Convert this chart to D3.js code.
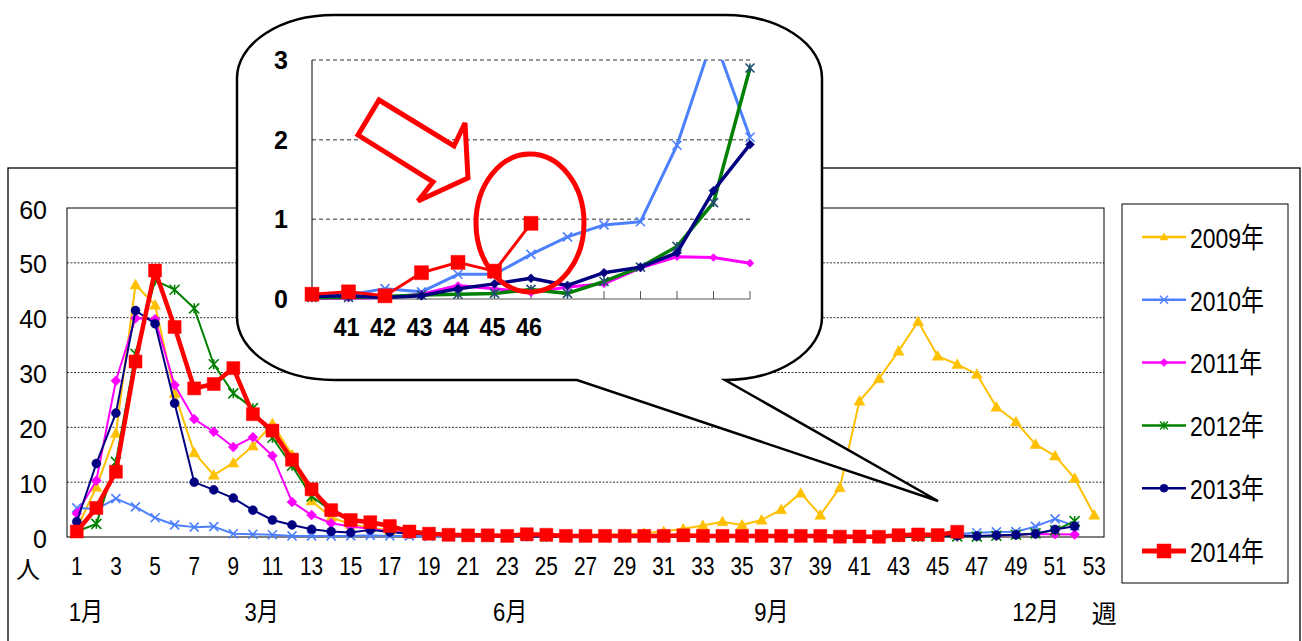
<!DOCTYPE html>
<html><head><meta charset="utf-8">
<script src="https://cdn.jsdelivr.net/npm/d3@7"></script>
<style>
body{margin:0;background:#fff;}
svg{display:block;}
text{font-family:"Liberation Sans",Arial,"Noto Sans CJK JP",sans-serif;fill:#000;}
</style></head><body>
<svg id="c" width="1302" height="641"></svg>
<script>
// ---------------- DATA ----------------
const weeks = d3.range(1, 54);
const years = ["2009年","2010年","2011年","2012年","2013年","2014年"];
const y2009 = [1.5,9.1,18.9,46.0,42.3,26.2,15.4,11.3,13.5,16.6,20.7,15.0,6.6,3.6,2.3,1.7,1.2,0.8,0.6,0.5,
  0.4,0.3,0.3,0.3,0.2,0.3,0.3,0.4,0.5,0.7,1.0,1.5,2.1,2.8,2.2,3.1,5.0,8.0,4.0,9.0,
  24.8,28.9,33.9,39.3,33.0,31.5,29.7,23.7,21.0,16.9,14.8,10.7,4.0];
const y2010 = [5.3,5.1,7.0,5.5,3.5,2.2,1.8,1.9,0.6,0.5,0.4,0.2,0.2,0.2,0.2,0.3,0.2,0.2,0.1,0.1,
  0.1,0.1,0.1,0.1,0.1,0.1,0.1,0.1,0.1,0.1,0.1,0.1,0.1,0.1,0.1,0.1,0.1,0.1,0.1,0.04,
  0.05,0.13,0.09,0.31,0.31,0.56,0.78,0.93,0.97,1.93,3.3,2.03];
const y2011 = [4.3,10.3,28.5,39.9,39.7,27.7,21.5,19.2,16.4,18.2,14.8,6.4,4.0,2.5,1.9,1.5,1.0,0.7,0.5,0.4,
  0.3,0.2,0.2,0.2,0.1,0.1,0.1,0.1,0.1,0.1,0.1,0.1,0.1,0.1,0.1,0.1,0.1,0.1,0.1,0.01,
  0.01,0.02,0.06,0.17,0.13,0.08,0.15,0.19,0.39,0.53,0.52,0.45];
const y2012 = [1.0,2.4,13.7,33.4,46.8,45.1,41.7,31.5,26.2,23.5,18.1,13.0,7.4,4.8,3.1,2.5,2.0,1.2,0.8,0.5,
  0.4,0.3,0.2,0.2,0.1,0.1,0.1,0.1,0.1,0.1,0.1,0.1,0.1,0.1,0.1,0.1,0.1,0.1,0.1,0.02,
  0.02,0.03,0.05,0.06,0.07,0.12,0.07,0.22,0.40,0.66,1.21,2.90];
const y2013 = [2.8,13.4,22.6,41.3,38.9,24.4,10.0,8.6,7.1,4.9,3.1,2.2,1.4,1.0,0.8,1.3,0.9,0.6,0.4,0.3,
  0.2,0.2,0.1,0.1,0.1,0.1,0.1,0.1,0.1,0.1,0.1,0.1,0.1,0.1,0.1,0.1,0.1,0.1,0.1,0.03,
  0.04,0.02,0.04,0.13,0.19,0.26,0.17,0.33,0.40,0.58,1.36,1.94];
const y2014 = [1.0,5.3,11.9,32.0,48.6,38.3,27.1,27.9,30.8,22.4,19.4,14.1,8.7,4.9,3.1,2.7,2.0,1.0,0.6,0.4,
  0.3,0.3,0.2,0.5,0.4,0.2,0.2,0.2,0.2,0.2,0.2,0.3,0.2,0.2,0.2,0.2,0.2,0.2,0.2,0.06,
  0.09,0.04,0.33,0.46,0.35,0.95];
const seriesValues = [y2009, y2010, y2011, y2012, y2013, y2014];

const mainYTicks = [0,10,20,30,40,50,60];
const weekTickLabels = ["1","3","5","7","9","11","13","15","17","19","21","23","25","27","29","31","33","35","37","39","41","43","45","47","49","51","53"];
const monthLabels = ["1月","3月","6月","9月","12月"];
const monthAtWeek = [1.47,10.45,23.15,36.5,50.0];
const unitLabel = "人";
const weekUnitLabel = "週";

const insetWeeks = d3.range(40, 53);
const insetYTicks = [0,1,2,3];
const insetWeekLabels = ["41","42","43","44","45","46"];

// ---------------- STYLES ----------------
const styles = [
  {color:"#FFC000", marker:"triangle", size:11, width:2},
  {color:"#4D80FF", marker:"x", size:9, width:2},
  {color:"#FF00FF", marker:"diamond", size:10, width:2},
  {color:"#008000", marker:"star", size:10, width:2},
  {color:"#000080", marker:"circle", size:9, width:2},
  {color:"#FF0000", marker:"square", size:13, width:4.5}
];
const insetStyles = [
  null,
  {color:"#4D80FF", marker:"x", size:9, width:3},
  {color:"#FF00FF", marker:"diamond", size:8, width:3},
  {color:"#008000", marker:"star", size:9, width:3.5, markerColor:"#1F4F6F"},
  {color:"#000080", marker:"diamond", size:9, width:3.5},
  {color:"#FF0000", marker:"square", size:14, width:3}
];

function markerPath(type, s){
  const h = s/2;
  switch(type){
    case "triangle": return `M0,${-h}L${h},${h*0.75}L${-h},${h*0.75}Z`;
    case "square": return `M${-h},${-h}H${h}V${h}H${-h}Z`;
    case "diamond": return `M0,${-h}L${h},0L0,${h}L${-h},0Z`;
    case "circle": return d3.symbol(d3.symbolCircle, Math.PI*h*h)();
    case "x": return `M${-h},${-h}L${h},${h}M${h},${-h}L${-h},${h}`;
    case "star": return `M${-h},${-h}L${h},${h}M${h},${-h}L${-h},${h}M0,${-h}V${h}`;
  }
}
const strokeMarkers = new Set(["x","star"]);

const svg = d3.select("#c");

// outer chart frame
svg.append("rect").attr("x",8).attr("y",168).attr("width",1292).attr("height",490)
  .attr("fill","#fff").attr("stroke","#000").attr("stroke-width",1.3);

// ---------------- MAIN CHART ----------------
const x = d3.scalePoint().domain(weeks).range([67,1104]).padding(0.5);
const y = d3.scaleLinear().domain([0,60]).range([537,208]);

const gMain = svg.append("g");
gMain.append("g").selectAll("line").data(mainYTicks.filter(t=>t>0 && t<60)).join("line")
  .attr("x1",67).attr("x2",1104).attr("y1",d=>y(d)).attr("y2",d=>y(d))
  .attr("stroke","#333").attr("stroke-width",1).attr("stroke-dasharray","2,1.5");
gMain.append("rect").attr("x",67).attr("y",y(60)).attr("width",1104-67).attr("height",y(0)-y(60))
  .attr("fill","none").attr("stroke","#000").attr("stroke-width",1);

const yAxis = d3.axisLeft(y).tickValues(mainYTicks).tickSize(0).tickPadding(20);
const yAxisG = gMain.append("g").attr("transform","translate(67,0)").call(yAxis);
yAxisG.select(".domain").remove();
yAxisG.selectAll("text").attr("font-size",25).attr("dy","0.4em")
  .style("font-family",'"Liberation Sans",Arial,sans-serif');

gMain.append("g").selectAll("text").data(weekTickLabels).join("text")
  .attr("transform",d=>`translate(${x(+d)},566) scale(0.8,1)`)
  .attr("text-anchor","middle").attr("dominant-baseline","central")
  .attr("font-size",26).text(d=>d);

svg.append("text").attr("x",28).attr("y",567).attr("text-anchor","middle").attr("dominant-baseline","central")
  .attr("font-size",24).style("font-family",'"Noto Sans CJK JP",sans-serif').text(unitLabel);
svg.append("g").selectAll("text").data(monthLabels).join("text")
  .attr("transform",(d,i)=>`translate(${x(1)+(monthAtWeek[i]-1)*x.step()},612) scale(0.85,1)`)
  .attr("text-anchor","middle").attr("dominant-baseline","central")
  .attr("font-size",26).text(d=>d);
svg.append("text").attr("x",x(53)+10).attr("y",612).attr("text-anchor","middle").attr("dominant-baseline","central")
  .attr("font-size",25).style("font-family",'"Noto Sans CJK JP",sans-serif').text(weekUnitLabel);

function drawSeries(g, xs, ys, vals, wks, st){
  const pts = vals.map((v,i)=>({w:wks[i], v}));
  g.append("path").datum(pts)
    .attr("d", d3.line().x(d=>xs(d.w)).y(d=>ys(d.v)))
    .attr("fill","none").attr("stroke",st.color).attr("stroke-width",st.width)
    .attr("stroke-linejoin","round");
  const mc = st.markerColor || st.color;
  g.append("g").selectAll("path").data(pts).join("path")
    .attr("transform",d=>`translate(${xs(d.w)},${ys(d.v)})`)
    .attr("d", markerPath(st.marker, st.size))
    .attr("fill", strokeMarkers.has(st.marker) ? "none" : mc)
    .attr("stroke", mc).attr("stroke-width", strokeMarkers.has(st.marker) ? 1.6 : 0.5);
}

const gSeries = gMain.append("g");
seriesValues.forEach((vals, i) => drawSeries(gSeries, x, y, vals, weeks, styles[i]));

// ---------------- LEGEND ----------------
const lg = svg.append("g");
lg.append("rect").attr("x",1122).attr("y",204).attr("width",166).attr("height",379)
  .attr("fill","#fff").attr("stroke","#000").attr("stroke-width",1);
years.forEach((name,i)=>{
  const yy = 237 + i*62.8;
  const st = styles[i];
  lg.append("line").attr("x1",1142).attr("x2",1186).attr("y1",yy).attr("y2",yy)
    .attr("stroke",st.color).attr("stroke-width", i===5 ? 5 : 2.5);
  lg.append("path").attr("transform",`translate(1164,${yy})`)
    .attr("d",markerPath(st.marker, i===5 ? 14 : 8))
    .attr("fill", strokeMarkers.has(st.marker) ? "none" : st.color)
    .attr("stroke", st.color).attr("stroke-width", strokeMarkers.has(st.marker)?1.4:0.5);
  lg.append("text").attr("transform",`translate(1190,${yy+1}) scale(0.82,1)`)
    .attr("dominant-baseline","central").attr("font-size",28).text(name);
});

// ---------------- CALLOUT ----------------
const L=237,T=15,R=822,B=380,rx=97,ry=63;
const calloutPath = `M${L+rx},${T}H${R-rx}A${rx},${ry} 0 0 1 ${R},${T+ry}V${B-ry}A${rx},${ry} 0 0 1 ${R-rx},${B}`+
  `L938,501L577,${B}H${L+rx}A${rx},${ry} 0 0 1 ${L},${B-ry}V${T+ry}A${rx},${ry} 0 0 1 ${L+rx},${T}Z`;
svg.append("path").attr("d",calloutPath).attr("fill","#fff").attr("stroke","#000").attr("stroke-width",2.5)
  .attr("stroke-linejoin","miter");

// ---------------- INSET ----------------
const xi = d3.scaleLinear().domain([40,52]).range([312,750]);
const yi = d3.scaleLinear().domain([0,3]).range([299,60]);
const gIn = svg.append("g");
gIn.append("g").selectAll("line").data(insetYTicks.filter(t=>t>0)).join("line")
  .attr("x1",312).attr("x2",750).attr("y1",d=>yi(d)).attr("y2",d=>yi(d))
  .attr("stroke","#777").attr("stroke-width",1.5).attr("stroke-dasharray","4,3");
gIn.append("line").attr("x1",312).attr("x2",312).attr("y1",yi(3)).attr("y2",yi(0)).attr("stroke","#000").attr("stroke-width",1);
gIn.append("line").attr("x1",312).attr("x2",750).attr("y1",yi(0)).attr("y2",yi(0)).attr("stroke","#555").attr("stroke-width",1);
gIn.append("g").selectAll("line").data(insetWeeks.slice(1)).join("line")
  .attr("x1",d=>xi(d)).attr("x2",d=>xi(d)).attr("y1",yi(0)).attr("y2",yi(0)-8)
  .attr("stroke","#555").attr("stroke-width",1);
gIn.append("g").selectAll("text").data(insetYTicks).join("text")
  .attr("x",288).attr("y",d=>yi(d)).attr("text-anchor","end").attr("dominant-baseline","central")
  .attr("font-size",25).attr("font-weight","bold").text(d=>d);
gIn.append("g").selectAll("text").data(insetWeekLabels).join("text")
  .attr("transform",d=>`translate(${xi(+d)-2},327) scale(0.9,1)`).attr("text-anchor","middle").attr("dominant-baseline","central")
  .attr("font-size",26).attr("font-weight","bold").text(d=>d);

svg.append("clipPath").attr("id","insetClip").append("rect")
  .attr("x",290).attr("y",yi(3)).attr("width",480).attr("height",270);
const gInS = gIn.append("g").attr("clip-path","url(#insetClip)");
seriesValues.forEach((vals,i)=>{
  if(!insetStyles[i]) return;
  const sub = vals.slice(39, 52);
  drawSeries(gInS, xi, yi, sub, insetWeeks.slice(0, sub.length), insetStyles[i]);
});

// arrow annotation
svg.append("path")
  .attr("d","M379,100L454,146L465,123L468,178L418,201L433,182L358,135Z")
  .attr("fill","#fff").attr("stroke","#FF0000").attr("stroke-width",5).attr("stroke-linejoin","miter");
// ellipse annotation
svg.append("ellipse").attr("cx",530).attr("cy",223).attr("rx",54).attr("ry",69)
  .attr("fill","none").attr("stroke","#FF0000").attr("stroke-width",5);
</script>
</body></html>
